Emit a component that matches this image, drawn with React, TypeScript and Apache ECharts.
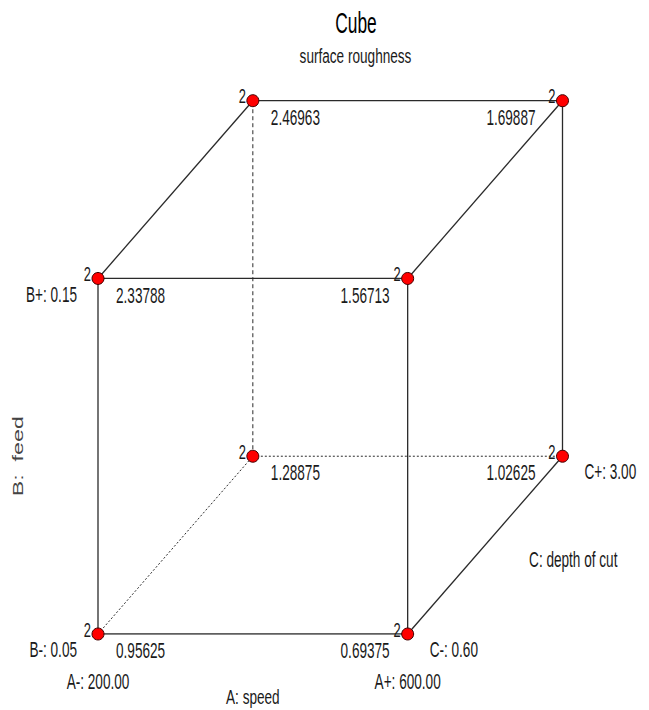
import React, { useEffect, useRef } from 'react';
import * as echarts from 'echarts';

// ---- data ----
const chartTitle = 'Cube';
const chartSubtitle = 'surface roughness';
const factorNames = ['A: speed', 'B:  feed', 'C: depth of cut'];
const lowLevels = ['A-: 200.00', 'B-: 0.05', 'C-: 0.60'];
const highLevels = ['A+: 600.00', 'B+: 0.15', 'C+: 3.00'];
// coded factor levels of the 8 cube corners (0 = low, 1 = high)
const runA = [0, 1, 0, 1, 0, 1, 0, 1];
const runB = [0, 0, 1, 1, 0, 0, 1, 1];
const runC = [0, 0, 0, 0, 1, 1, 1, 1];
const response = [0.95625, 0.69375, 2.33788, 1.56713, 1.28875, 1.02625, 2.46963, 1.69887];
const replicates = [2, 2, 2, 2, 2, 2, 2, 2];

// ---- style ----
const DEPTH = 0.5;
const FONT = '"Liberation Sans", Arial, Helvetica, sans-serif';
const SX = 0.68;
const SY = 1.07;
const INK = '#1a1a1a';

const proj = (i: number): number[] => [runA[i] + DEPTH * runC[i], runB[i] + DEPTH * runC[i]];

function textEl(text: string, x: number, y: number, align: string, size = 20, extra: any = {}, color = INK) {
  return {
    type: 'text',
    x,
    y,
    scaleX: SX,
    scaleY: SY,
    silent: true,
    ...extra,
    style: {
      text,
      fontSize: size,
      fontFamily: FONT,
      font: `${size}px ${FONT}`,
      fill: color,
      textFill: color,
      align,
      textAlign: align,
      verticalAlign: 'middle',
      textVerticalAlign: 'middle',
    },
  };
}

function buildOption(): any {
  const n = runA.length;
  const hidden = runA.findIndex((a, i) => a === 0 && runB[i] === 0 && runC[i] === 1);
  const edgeSeries: any[] = [];
  for (let i = 0; i < n; i++) {
    for (let j = i + 1; j < n; j++) {
      const diffA = runA[i] !== runA[j] ? 1 : 0;
      const diffB = runB[i] !== runB[j] ? 1 : 0;
      const diffC = runC[i] !== runC[j] ? 1 : 0;
      if (diffA + diffB + diffC !== 1) continue;
      const isHidden = i === hidden || j === hidden;
      let type: any = 'solid';
      if (isHidden) type = diffB ? [4, 3] : [2, 2];
      edgeSeries.push({
        type: 'line',
        data: [proj(i), proj(j)],
        symbol: 'none',
        silent: true,
        z: 1,
        lineStyle: { color: '#2a2a2a', width: isHidden ? 1 : 1.3, type },
      });
    }
  }

  const cornerData = runA.map((_, i) => proj(i));

  const cornerLabels = {
    type: 'custom',
    data: cornerData,
    clip: false,
    silent: true,
    z: 4,
    renderItem: (params: any, api: any) => {
      const i = params.dataIndex;
      const [px, py] = api.coord([api.value(0), api.value(1)]);
      const a = runA[i], b = runB[i], c = runC[i];
      const children: any[] = [];
      children.push(textEl(String(replicates[i]), px - 7, py - 4, 'right', 19));
      const val = response[i].toFixed(5);
      if (a === 0) children.push(textEl(val, px + 18, py + 17, 'left'));
      else children.push(textEl(val, px - (c ? 27 : 18), py + 17, 'right'));
      if (a === 0 && c === 0) children.push(textEl(b ? highLevels[1] : lowLevels[1], px - 21, py + 16, 'right'));
      if (b === 0 && c === 0) children.push(textEl(a ? highLevels[0] : lowLevels[0], px, py + 48, 'center'));
      if (a === 1 && b === 0) children.push(textEl(c ? highLevels[2] : lowLevels[2], px + 22, py + 16, 'left'));
      return { type: 'group', children };
    },
  };

  const axisAnchors = [
    [0.5, 0],
    [0, 0.5],
    [1 + DEPTH / 2, DEPTH / 2],
  ];
  const axisTitles = {
    type: 'custom',
    data: axisAnchors,
    clip: false,
    silent: true,
    z: 4,
    renderItem: (params: any, api: any) => {
      const k = params.dataIndex;
      const [px, py] = api.coord([api.value(0), api.value(1)]);
      if (k === 0) return textEl(factorNames[0], px, py + 64, 'center', 20, { scaleY: 1.0 });
      if (k === 1)
        return textEl(factorNames[1], px - 80, py, 'center', 15, { rotation: Math.PI / 2, scaleX: 1.55, scaleY: 1 }, '#444');
      return textEl(factorNames[2], px + 44, py + 15, 'left');
    },
  };

  return {
    animation: false,
    backgroundColor: '#ffffff',
    grid: { left: 98, right: 86.5, top: 100.7, bottom: 76, containLabel: false },
    xAxis: { type: 'value', min: 0, max: 1 + DEPTH, show: false },
    yAxis: { type: 'value', min: 0, max: 1 + DEPTH, show: false },
    graphic: [
      textEl(chartTitle, 356, 22.5, 'center', 28, { scaleX: 0.62, scaleY: 1.05 }, '#000'),
      textEl(chartSubtitle, 355.5, 57, 'center', 20, { scaleY: 1.0 }, INK),
    ],
    series: [
      ...edgeSeries,
      {
        type: 'scatter',
        data: cornerData,
        symbol: 'circle',
        symbolSize: 12,
        silent: true,
        z: 3,
        itemStyle: { color: '#ff0000', borderColor: '#400000', borderWidth: 1, opacity: 1 },
      },
      cornerLabels,
      axisTitles,
    ],
  };
}

export default function App() {
  const ref = useRef<HTMLDivElement>(null);
  useEffect(() => {
    if (!ref.current) return;
    const chart = echarts.init(ref.current, undefined, { renderer: 'svg' });
    chart.setOption(buildOption());
    return () => chart.dispose();
  }, []);
  return (
    <div
      ref={ref}
      style={{ position: 'absolute', left: 0, top: 0, width: 649, height: 710, background: '#fff' }}
    />
  );
}
